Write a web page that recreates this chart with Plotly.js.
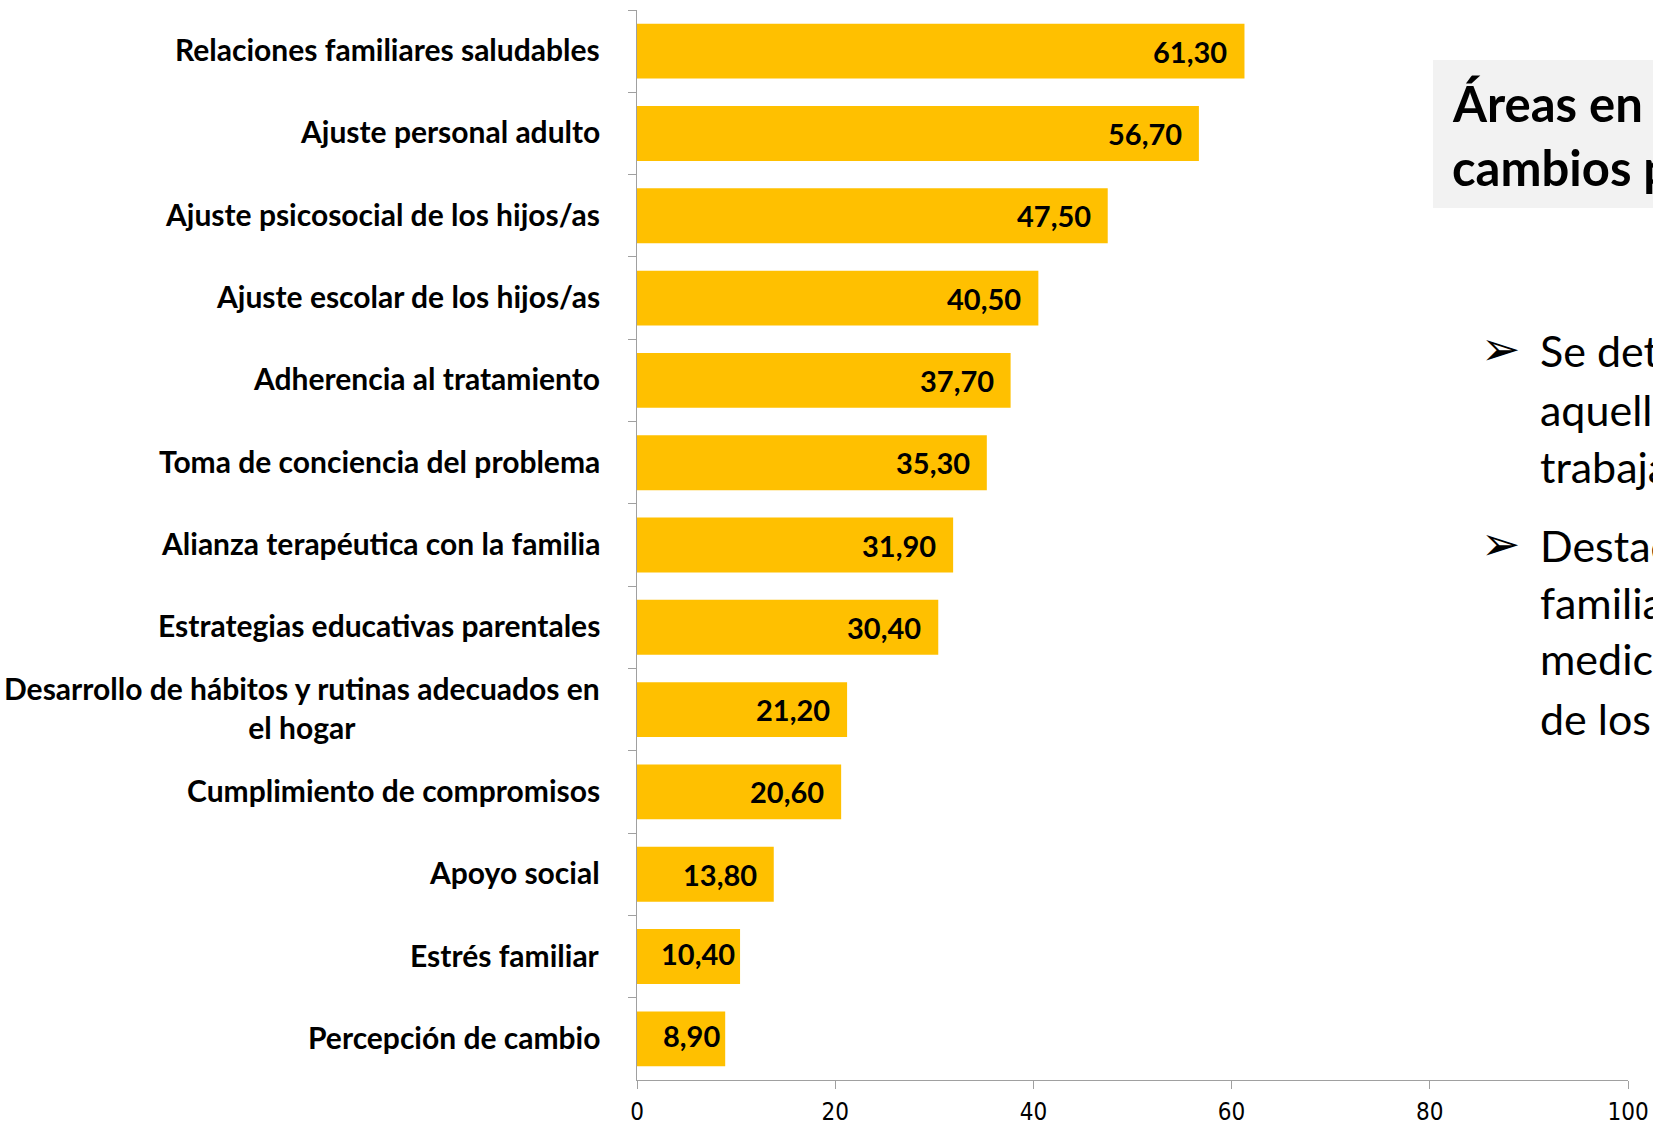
<!DOCTYPE html>
<html>
<head>
<meta charset="utf-8">
<script src="https://cdn.plot.ly/plotly-3.0.1.min.js"></script>
<style>html,body{margin:0;padding:0;background:#fff;overflow:hidden}#chart{width:1653px;height:1127px}</style>
</head>
<body>
<div id="chart"></div>
<script>
// ---- data ----
const categories = [
  "Relaciones familiares saludables",
  "Ajuste personal adulto",
  "Ajuste psicosocial de los hijos/as",
  "Ajuste escolar de los hijos/as",
  "Adherencia al tratamiento",
  "Toma de conciencia del problema",
  "Alianza terapéutica con la familia",
  "Estrategias educativas parentales",
  "Desarrollo de hábitos y rutinas adecuados en<br>el hogar",
  "Cumplimiento de compromisos",
  "Apoyo social",
  "Estrés familiar",
  "Percepción de cambio"
];
const values = [61.3, 56.7, 47.5, 40.5, 37.7, 35.3, 31.9, 30.4, 21.2, 20.6, 13.8, 10.4, 8.9];
const xTicks = [0, 20, 40, 60, 80, 100];

const panelTitle = ["Áreas en las que se producen", "cambios positivos"];
const bullet1 = ["Se detectan cambios en", "aquellas áreas más", "trabajadas en la intervención"];
const bullet2 = ["Destacan las relaciones", "familiares saludables y la", "medición del ajuste", "de los hijos/as"];

// ---- layout geometry ----
const W = 1653, H = 1127;
const M = {l: 637, r: 25, t: 10, b: 47};
const pw = W - M.l - M.r, ph = H - M.t - M.b;
const px = x => (x - M.l) / pw;           // pixel -> paper x
const py = y => 1 - (y - M.t) / ph;       // pixel -> paper y
const xMax = 100;

const LATO = "Lato, 'Open Sans', sans-serif";
const valSize = 29;

// measure label widths to decide inside padding (like Excel "inside end")
const cv = document.createElement("canvas").getContext("2d");
cv.font = "bold " + valSize + "px Lato";
const fmt = v => v.toFixed(2).replace(".", ",");

const annotations = [];
categories.forEach(c => {
  annotations.push({
    xref: "paper", x: 0, xshift: -35, xanchor: "right",
    yref: "y", y: c, yanchor: "middle", yshift: 2,
    text: "<b>" + c + "</b>", showarrow: false, align: "center",
    font: {family: LATO, size: 30, color: "#000"}
  });
});
values.forEach((v, i) => {
  const barPx = v / xMax * pw;
  const tw = cv.measureText(fmt(v)).width;
  const pad = barPx >= tw + 36 ? 15 : 3;
  annotations.push({
    xref: "x", x: v, xanchor: "right", xshift: -pad,
    yref: "y", y: categories[i], yanchor: "middle", yshift: pad === 3 ? 3 : 0,
    text: "<b>" + fmt(v) + "</b>", showarrow: false,
    font: {family: LATO, size: valSize, color: "#000"}
  });
});
const titleY = [103, 167];
panelTitle.forEach((t, i) => annotations.push({
  xref: "paper", yref: "paper", x: px(1450), y: py(titleY[i]), xanchor: "left", yanchor: "middle",
  text: "<b>" + t + "</b>", showarrow: false, align: "left",
  font: {family: LATO, size: 49, color: "#000"}
}));
const b1Y = [350, 409, 466], b2Y = [545, 602, 659, 718];
function addBullet(lines, ys) {
  annotations.push({
    xref: "paper", yref: "paper", x: px(1479), y: py(ys[0] - 2), xanchor: "left", yanchor: "middle",
    text: "\u27A2", showarrow: false,
    font: {family: "DejaVu Sans, sans-serif", size: 47, color: "#000"}
  });
  lines.forEach((t, i) => annotations.push({
    xref: "paper", yref: "paper", x: px(1538), y: py(ys[i]), xanchor: "left", yanchor: "middle",
    text: t, showarrow: false, align: "left",
    font: {family: LATO, size: 43, color: "#000"}
  }));
}
addBullet(bullet1, b1Y);
addBullet(bullet2, b2Y);

const trace = {
  type: "bar", orientation: "h",
  x: values, y: categories,
  marker: {color: "#FFC000", line: {width: 0}},
  textposition: "none",
  hoverinfo: "none"
};

const layout = {
  width: W, height: H,
  margin: M,
  paper_bgcolor: "#fff", plot_bgcolor: "#fff",
  separators: ",.",
  showlegend: false,
  bargap: 0.333,
  font: {family: LATO, color: "#000"},
  xaxis: {
    range: [0, xMax], tickvals: xTicks, ticktext: xTicks.map(String),
    showgrid: false, zeroline: false,
    showline: true, linecolor: "#a0a0a0", linewidth: 1,
    ticks: "outside", ticklen: 8, tickcolor: "#a0a0a0", tickwidth: 1,
    ticklabelstandoff: 2,
    tickfont: {family: "'Liberation Sans Narrow', 'DejaVu Sans Condensed', sans-serif", size: 24, color: "#000"},
    fixedrange: true
  },
  yaxis: {
    type: "category", range: [12.5, -0.5],
    showticklabels: false, showgrid: false, zeroline: false,
    showline: true, linecolor: "#a0a0a0", linewidth: 1,
    ticks: "outside", tickson: "boundaries", ticklen: 8, tickcolor: "#a0a0a0", tickwidth: 1,
    fixedrange: true
  },
  shapes: [{
    type: "rect", xref: "paper", yref: "paper", layer: "below",
    x0: px(1433), x1: px(1720), y0: py(208), y1: py(60),
    fillcolor: "#F2F2F2", line: {width: 0}
  }],
  annotations: annotations
};

Plotly.newPlot("chart", [trace], layout, {staticPlot: true, displayModeBar: false});
</script>
</body>
</html>
